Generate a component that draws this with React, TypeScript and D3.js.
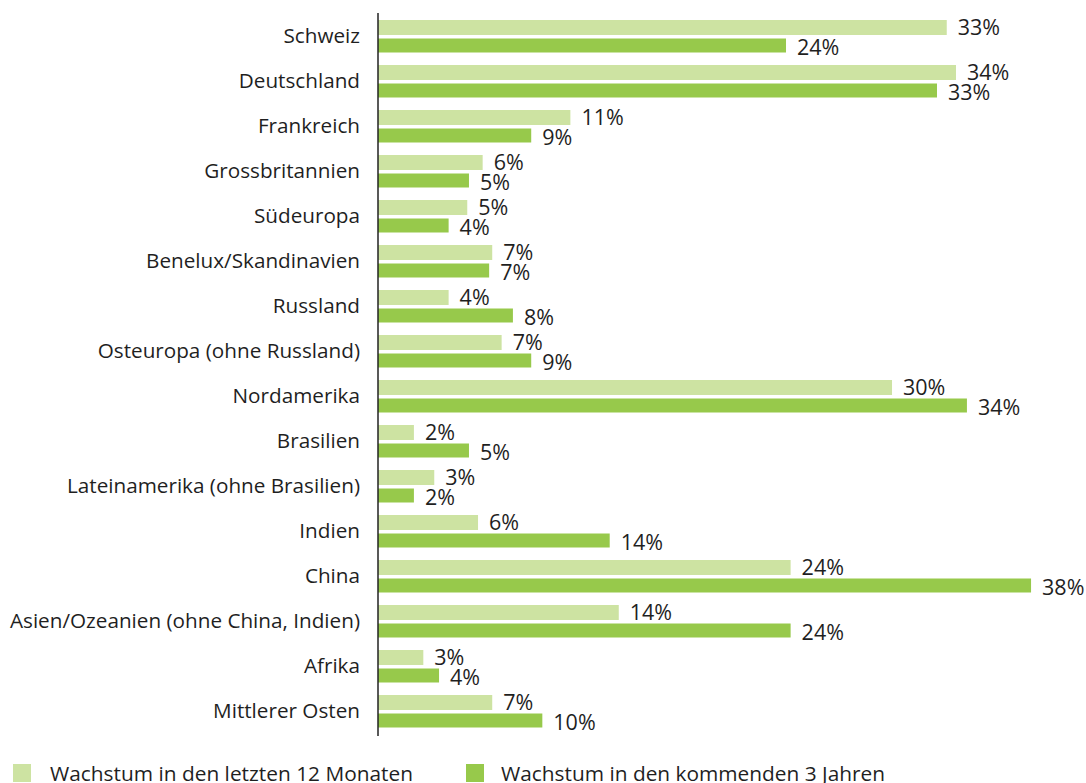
import React from "react";
import * as d3 from "d3";

const categories = [
  "Schweiz",
  "Deutschland",
  "Frankreich",
  "Grossbritannien",
  "Südeuropa",
  "Benelux/Skandinavien",
  "Russland",
  "Osteuropa (ohne Russland)",
  "Nordamerika",
  "Brasilien",
  "Lateinamerika (ohne Brasilien)",
  "Indien",
  "China",
  "Asien/Ozeanien (ohne China, Indien)",
  "Afrika",
  "Mittlerer Osten",
];

// Wachstum in den letzten 12 Monaten (%)
const past12Months = [33.26, 33.8, 11.25, 6.12, 5.22, 6.68, 4.13, 7.23, 30.06, 2.1, 3.29, 5.85, 24.13, 14.08, 2.65, 6.68];
// Wachstum in den kommenden 3 Jahren (%)
const next3Years = [23.86, 32.69, 8.96, 5.32, 4.13, 6.5, 7.89, 8.96, 34.44, 5.32, 2.1, 13.55, 38.19, 24.13, 3.57, 9.61];

const seriesNames = ["Wachstum in den letzten 12 Monaten", "Wachstum in den kommenden 3 Jahren"];
const seriesColors = ["#cde3a2", "#97c94b"];

const W = 1086;
const H = 783;
const X0 = 378;
const FONT = "'Open Sans', 'Noto Sans', sans-serif";
const TEXT = "#1f1f1f";

export default function App() {
  const x = d3.scaleLinear().domain([0, 1]).range([X0, X0 + 17.1]);
  const y = d3.scaleBand<string>().domain(categories).range([17, 17 + 45 * categories.length]).paddingInner(0).paddingOuter(0);
  const fmt = (v: number) => `${Math.round(v)}%`;

  const bars = [
    { values: past12Months, offset: 3, h: 15, color: seriesColors[0], base: -0.5 },
    { values: next3Years, offset: 21.5, h: 14, color: seriesColors[1], base: 2.5 },
  ];

  return (
    <svg
      width={W}
      height={H}
      viewBox={`0 0 ${W} ${H}`}
      style={{ position: "absolute", left: 0, top: 0, background: "#fff" }}
    >
      {categories.map((c, i) => {
        const gy = y(c) as number;
        return (
          <g key={c}>
            <text
              x={360}
              y={gy + 26.3}
              textAnchor="end"
              fontFamily={FONT}
              fontSize={20.7}
              fill={TEXT}
            >
              {c}
            </text>
            {bars.map((s, k) => {
              const v = s.values[i];
              const by = gy + s.offset;
              return (
                <g key={k}>
                  <rect x={x(0)} y={by} width={x(v) - x(0)} height={s.h} fill={s.color} />
                  <text
                    x={x(v) + 11}
                    y={by + s.h + s.base}
                    fontFamily={FONT}
                    fontSize={21.5}
                    fill={TEXT}
                  >
                    {fmt(v)}
                  </text>
                </g>
              );
            })}
          </g>
        );
      })}
      <line x1={X0} x2={X0} y1={13} y2={736} stroke="#222" strokeWidth={1.5} />
      {/* legend */}
      {[
        { sx: 13, tx: 50, w: 363 },
        { sx: 466, tx: 501, w: 384 },
      ].map((l, k) => (
        <g key={k}>
          <rect x={l.sx} y={764} width={18} height={18} fill={seriesColors[k]} />
          <text
            x={l.tx}
            y={781}
            fontFamily={FONT}
            fontSize={20.5}
            fill={TEXT}
            textLength={l.w}
            lengthAdjust="spacingAndGlyphs"
          >
            {seriesNames[k]}
          </text>
        </g>
      ))}
    </svg>
  );
}
